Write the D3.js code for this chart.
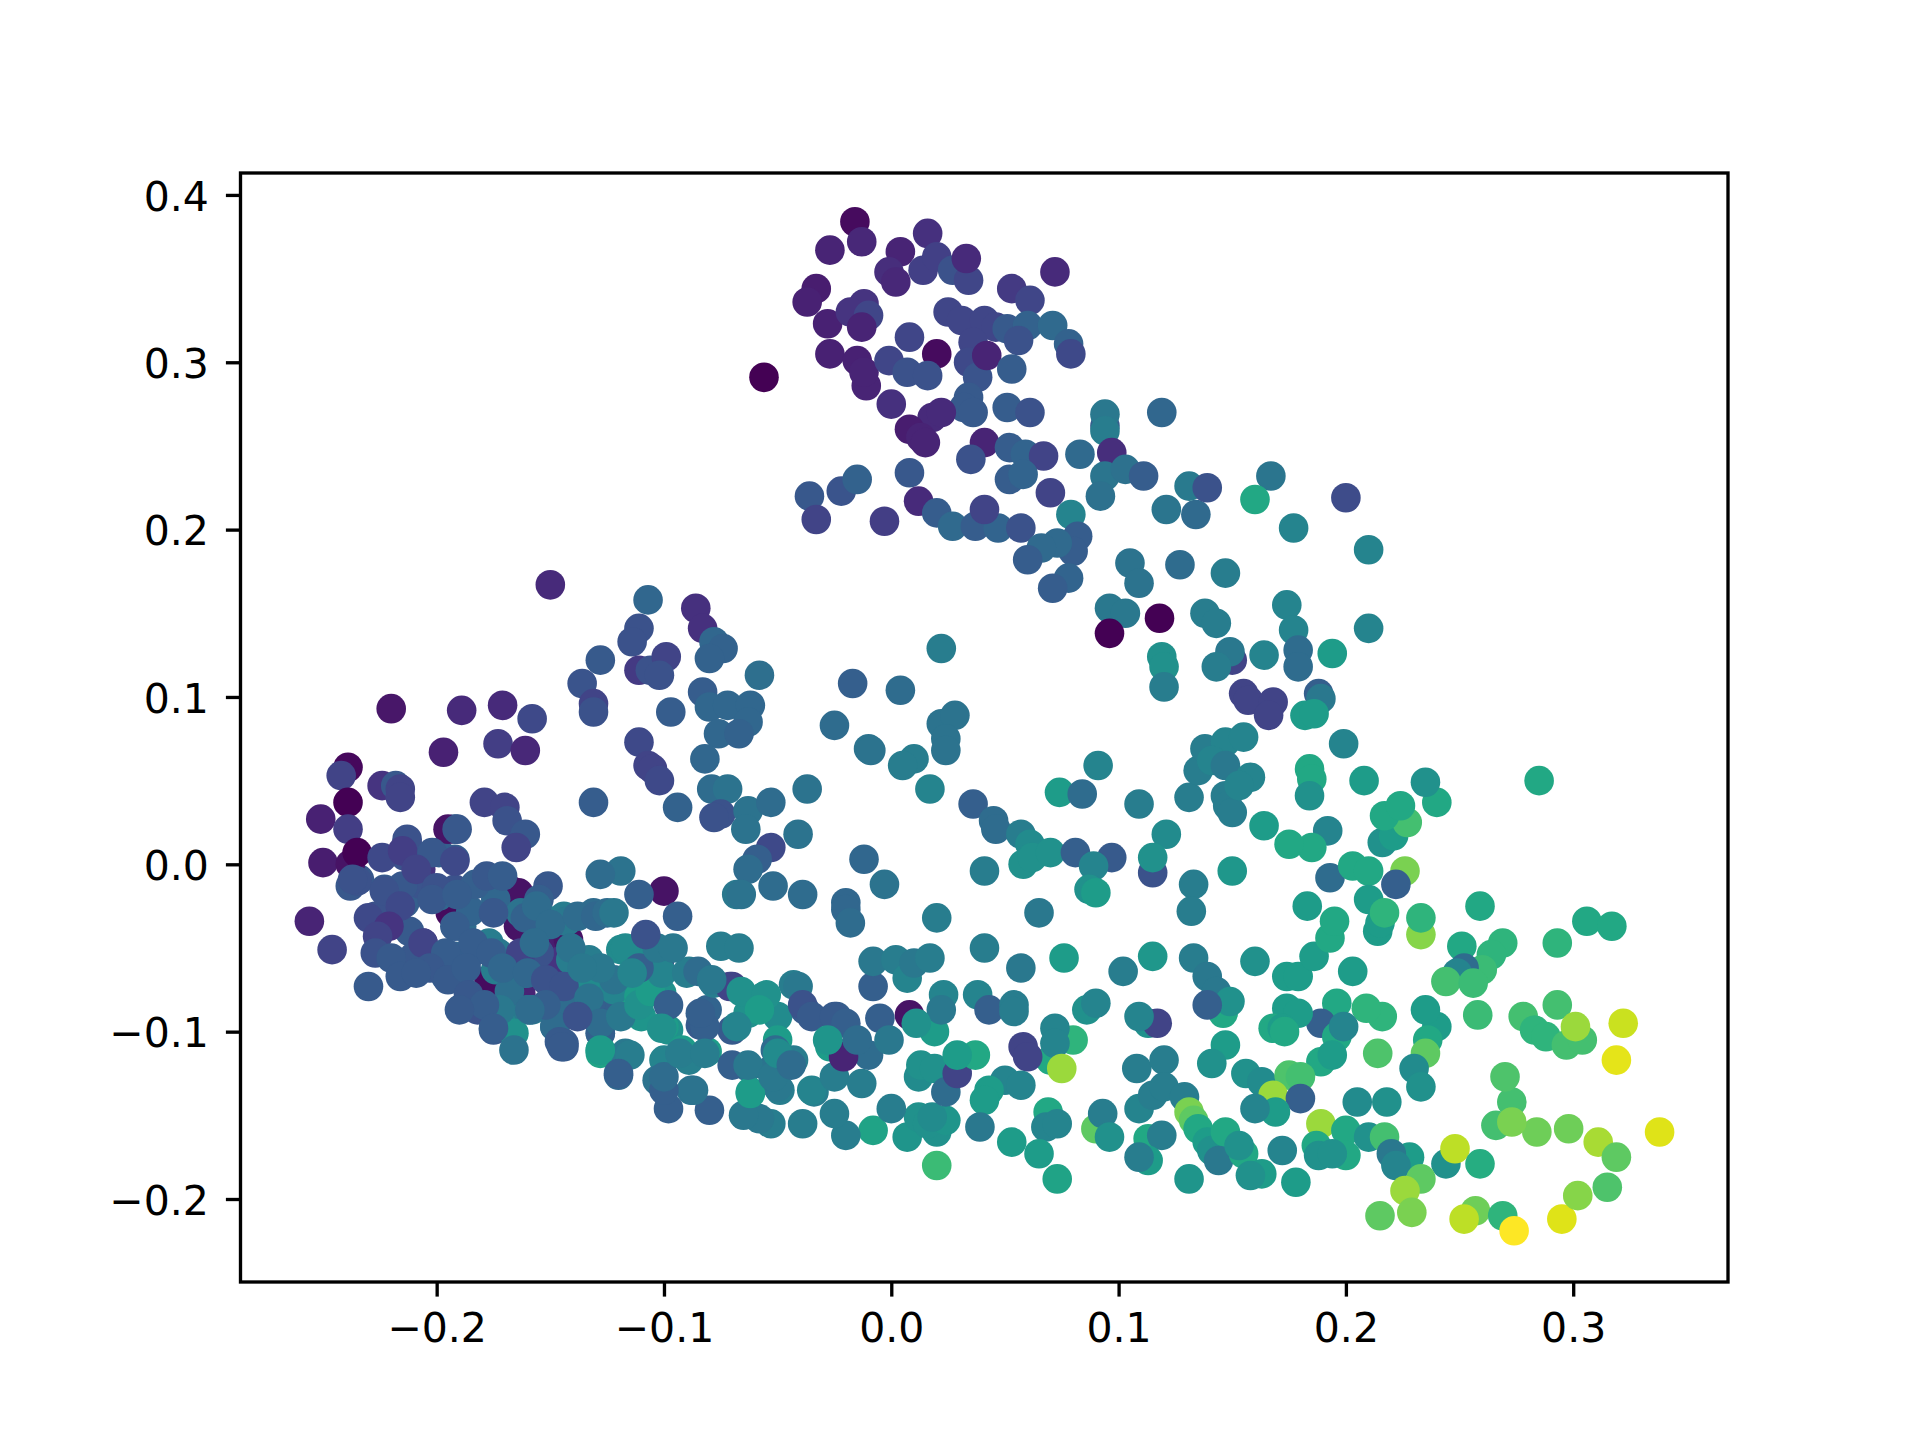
<!DOCTYPE html>
<html><head><meta charset="utf-8">
<script src="https://cdn.jsdelivr.net/npm/d3@7/dist/d3.min.js"></script>
<style>html,body{margin:0;padding:0;background:#fff}svg{display:block}text{font-family:"DejaVu Sans";}</style>
</head><body><svg id="c" width="1920" height="1440"></svg>
<script>
const xTicks=[-0.2,-0.1,0,0.1,0.2,0.3];
const yTicks=[-0.2,-0.1,0,0.1,0.2,0.3,0.4];
// each record: x, y, colour value
const hiddenDark=[[-.167,-.016,.08],[-.145,-.043,.08],[-.164,-.037,.05],[-.176,-.07,.05],[-.146,-.058,.15],[-.164,-.017,.05],[-.142,-.045,.05],[-.194,-.029,.03],[-.177,-.069,.03],[-.163,-.077,.1]];
const denseFill=[[-.129,-.071,.5],[-.12,-.073,.5],[-.112,-.079,.58],[-.101,-.077,.5],[-.11,-.091,.52],[-.098,-.099,.5],[-.128,-.113,.58],[-.117,-.114,.42],[-.1,-.117,.45],[-.089,-.117,.43],[-.081,-.112,.55],[-.092,-.111,.55],[-.07,-.099,.28],[-.084,-.096,.28],[-.081,-.087,.32],[-.07,-.073,.18],[-.078,-.071,.42],[-.089,-.064,.42],[-.056,-.079,.52],[-.063,-.089,.5],[-.05,-.091,.48],[-.05,-.105,.55],[-.051,-.111,.35],[-.043,-.117,.42],[-.063,-.121,.38],[-.053,-.123,.38],[-.07,-.12,.3],[-.062,-.136,.55],[-.049,-.135,.42],[-.034,-.136,.42],[-.088,-.135,.38],[-.103,-.129,.38],[-.043,-.072,.42],[-.038,-.087,.28],[-.027,-.109,.55],[-.024,-.091,.3],[-.102,-.058,.25],[-.111,-.066,.28],[-.119,-.051,.48],[-.113,-.053,.48],[-.133,-.057,.42],[-.141,-.057,.42],[-.133,-.083,.3],[-.122,-.089,.3],[-.128,-.101,.38],[-.148,-.097,.38],[-.144,-.109,.28],[-.158,-.087,.4],[-.146,-.077,.3],[-.155,-.053,.25],[-.131,-.029,.35],[-.142,-.033,.42],[-.192,-.055,.33],[-.189,-.037,.35],[-.177,-.047,.42],[-.174,-.021,.33],[-.151,-.013,.27],[-.155,-.021,.3],[-.163,-.029,.38],[-.152,-.033,.42],[-.144,-.031,.42],[-.173,-.053,.4],[-.174,-.063,.42],[-.161,-.065,.42],[-.155,-.053,.25],[-.163,-.053,.2],[-.171,-.089,.45],[-.16,-.087,.4],[-.146,-.073,.28],[-.145,-.081,.35],[-.132,-.083,.3],[-.132,-.073,.48],[-.122,-.075,.45],[-.111,-.079,.55],[-.1,-.097,.55],[-.189,-.086,.3],[-.182,-.087,.25],[-.175,-.099,.28],[-.166,-.101,.5],[-.148,-.097,.35],[-.144,-.107,.28],[-.128,-.111,.55],[-.128,-.101,.3],[-.117,-.113,.4],[-.12,-.126,.33],[-.196,-.067,.3],[-.186,-.055,.3],[-.206,-.047,.15],[-.221,-.033,.2],[-.227,-.031,.25],[-.214,-.023,.3],[-.223,-.015,.28],[-.234,-.009,.27],[-.238,-.013,.27],[-.192,-.015,.25],[-.199,-.019,.33],[-.207,-.003,.15],[-.213,.013,.25],[-.214,.005,.25],[-.199,.007,.3],[-.192,.003,.3],[-.192,.021,.33],[-.207,-.012,.26],[-.212,-.04,.28],[-.185,-.028,.32],[-.183,-.012,.3],[-.21,-.055,.27],[-.168,-.076,.36],[-.215,-.013,.27]];
const leftCluster=[[-.239,.058,.02],[-.242,.053,.2],[-.22,.093,.06],[-.189,.092,.12],[-.171,.095,.12],[-.158,.087,.22],[-.197,.067,.09],[-.173,.072,.18],[-.161,.068,.11],[-.224,.047,.15],[-.218,.047,.27],[-.216,.045,.2],[-.216,.04,.2],[-.239,.037,0],[-.251,.027,.09],[-.239,.021,.18],[-.195,.021,.05],[-.191,.021,.27],[-.179,.037,.2],[-.17,.034,.2],[-.169,.026,.25],[-.161,.018,.27],[-.165,.01,.2],[-.25,.001,.08],[-.238,0,.05],[-.235,.007,0],[-.224,.004,.22],[-.213,.015,.25],[-.215,.008,.18],[-.202,.007,.27],[-.209,-.003,.2],[-.192,.002,.22],[-.235,-.01,.25],[-.237,-.009,.25],[-.223,-.016,.25],[-.216,-.025,.22],[-.23,-.032,.22],[-.221,-.037,.15],[-.226,-.043,.2],[-.2,-.014,.25],[-.202,-.021,.27],[-.191,-.018,.29],[-.178,-.007,.27],[-.171,-.007,.29],[-.175,-.029,.27],[-.161,-.032,.31],[-.156,-.025,.35],[-.143,-.034,.4],[-.15,-.036,.35],[-.138,-.031,.35],[-.13,-.031,.33],[-.125,-.029,.35],[-.206,-.047,.2],[-.227,-.053,.25],[-.22,-.056,.28],[-.192,-.037,.29],[-.184,-.047,.29],[-.176,-.053,.29],[-.196,-.053,.29],[-.203,-.062,.27],[-.195,-.069,.28],[-.187,-.062,.29],[-.171,-.062,.33],[-.16,-.065,.33],[-.157,-.047,.35],[-.141,-.05,.38],[-.152,-.069,.25],[-.144,-.073,.25],[-.152,-.084,.3],[-.159,-.087,.35],[-.172,-.087,.4],[-.186,-.078,.27],[-.179,-.084,.29],[-.146,-.106,.28],[-.133,-.08,.38],[-.128,-.095,.35],[-.119,-.091,.4],[-.111,-.084,.5],[-.106,-.076,.55],[-.117,-.05,.48],[-.101,-.065,.45],[-.098,-.084,.3],[-.09,-.065,.42],[-.085,-.064,.35],[-.071,-.073,.2],[-.079,-.069,.4],[-.111,-.062,.3],[-.122,-.069,.38],[-.103,-.05,.4],[-.128,-.062,.4],[-.136,-.062,.4],[-.138,-.091,.25],[-.114,-.065,.45],[-.23,-.073,.28],[-.216,-.067,.28],[-.209,-.065,.28],[-.246,-.051,.2],[-.256,-.034,.1],[-.19,-.087,.28],[-.175,-.098,.29],[-.166,-.111,.38],[-.145,-.109,.28],[-.128,-.111,.55],[-.115,-.114,.42],[-.12,-.125,.3],[-.108,-.042,.25],[-.1,-.016,.05],[-.094,-.031,.3],[-.096,-.05,.4],[-.111,-.018,.3],[-.119,-.004,.38],[-.128,-.006,.35],[-.122,-.029,.4],[-.075,-.049,.42],[-.067,-.05,.42]];
const upperLeftCluster=[[-.107,.158,.33],[-.086,.153,.14],[-.083,.141,.14],[-.111,.141,.25],[-.114,.133,.25],[-.128,.122,.28],[-.136,.108,.26],[-.15,.167,.12],[-.111,.116,.17],[-.106,.116,.25],[-.099,.124,.2],[-.102,.113,.25],[-.078,.133,.33],[-.074,.129,.31],[-.08,.123,.31],[-.058,.113,.36],[-.083,.103,.29],[-.08,.094,.33],[-.072,.095,.33],[-.062,.095,.33],[-.063,.085,.33],[-.076,.078,.33],[-.067,.078,.31],[-.082,.063,.33],[-.097,.091,.29],[-.131,.096,.2],[-.131,.091,.25],[-.111,.073,.22],[-.107,.059,.2],[-.105,.057,.2],[-.102,.05,.22],[-.094,.034,.31],[-.131,.037,.29],[-.079,.045,.35],[-.072,.045,.38],[-.037,.045,.38],[-.075,.03,.25],[-.078,.028,.25],[-.063,.032,.38],[-.064,.021,.38],[-.053,.037,.35],[-.041,.018,.38],[-.053,.01,.22],[-.059,.003,.3],[-.063,-.003,.35],[-.039,-.018,.35],[-.052,-.013,.35],[-.068,-.018,.4],[-.066,-.018,.38]];
const topCluster=[[-.056,.291,0],[-.016,.384,.03],[-.013,.372,.11],[-.027,.367,.1],[.004,.366,.1],[.016,.377,.14],[-.001,.354,.13],[.002,.348,.11],[.014,.355,.19],[.02,.363,.19],[.027,.355,.25],[.034,.349,.21],[.033,.362,.12],[.072,.354,.12],[.053,.344,.17],[.061,.337,.21],[-.033,.344,.08],[-.037,.336,.09],[-.028,.323,.09],[-.012,.335,.15],[-.018,.33,.15],[-.01,.328,.21],[-.013,.321,.1],[-.027,.305,.09],[-.015,.301,.09],[-.011,.286,.1],[-.012,.294,.1],[0,.275,.14],[.008,.315,.21],[-.001,.301,.21],[.02,.305,.03],[.007,.294,.25],[.016,.292,.25],[.025,.33,.21],[.031,.325,.21],[.041,.325,.21],[.046,.321,.21],[.036,.312,.21],[.034,.3,.22],[.038,.291,.26],[.034,.279,.28],[.032,.273,.28],[.036,.27,.28],[.042,.304,.1],[.018,.267,.12],[.022,.27,.12],[.008,.26,.08],[.013,.255,.1],[.015,.252,.1],[.051,.32,.28],[.06,.322,.31],[.071,.322,.34],[.078,.311,.31],[.079,.305,.22],[.056,.313,.25],[.053,.296,.29],[.051,.273,.29],[.061,.27,.25],[.041,.252,.1],[.035,.242,.25],[.052,.249,.29],[.059,.245,.32],[.067,.244,.2],[.008,.234,.27],[.012,.217,.12],[.02,.21,.29],[-.036,.22,.27],[-.033,.206,.2],[-.022,.223,.26],[-.015,.23,.31],[-.003,.205,.18],[.027,.202,.34],[.037,.202,.29],[.047,.201,.32],[.057,.201,.25],[.041,.212,.2],[.07,.222,.2],[.052,.23,.29],[.058,.233,.32],[.083,.245,.34],[.094,.262,.29],[.094,.269,.4],[.094,.259,.42],[.119,.27,.33],[.097,.246,.13],[.094,.232,.39],[.103,.236,.37],[.111,.232,.29],[.092,.22,.37],[.079,.209,.45],[.121,.212,.39],[.134,.209,.34],[.131,.226,.41],[.139,.225,.25],[.167,.232,.39],[.16,.218,.6],[.2,.219,.23],[.177,.201,.45],[.21,.188,.45],[.082,.196,.29],[.08,.187,.29],[.073,.192,.34],[.066,.189,.34],[.06,.182,.29],[.078,.171,.32],[.071,.165,.29]];
const midRightCluster=[[.105,.18,.38],[.109,.168,.38],[.127,.179,.35],[.147,.174,.42],[.096,.153,.4],[.103,.15,.4],[.096,.138,0],[.118,.147,0],[.138,.15,.42],[.143,.144,.42],[.174,.155,.45],[.177,.14,.45],[.21,.141,.45],[.179,.128,.35],[.179,.118,.35],[.194,.126,.55],[.164,.125,.45],[.15,.122,.2],[.149,.127,.4],[.143,.118,.42],[.119,.124,.5],[.12,.118,.5],[.12,.106,.42],[.155,.102,.2],[.157,.098,.2],[.168,.097,.2],[.166,.089,.2],[.188,.102,.3],[.189,.099,.4],[.182,.089,.55],[.186,.09,.55],[.199,.072,.45],[.022,.129,.42],[-.017,.108,.3],[.004,.104,.35],[-.025,.083,.35],[-.01,.069,.38],[-.009,.068,.38],[.022,.084,.38],[.028,.089,.38],[.024,.075,.38],[.024,.068,.38],[.01,.063,.42],[.005,.059,.42],[.017,.045,.45],[.036,.036,.3],[.045,.026,.35],[.046,.021,.35],[.057,.018,.42],[.061,.012,.48],[.041,-.004,.42],[.058,0,.5],[.062,.004,.5],[.07,.007,.5],[.081,.007,.3],[.097,.004,.28],[.074,.043,.55],[.084,.042,.35],[.091,.059,.45],[.109,.036,.42],[.121,.018,.48],[.115,-.005,.25],[.115,.004,.5],[.089,-.001,.45],[.087,-.015,.5],[.09,-.017,.55],[.065,-.029,.4],[.02,-.032,.42],[-.003,-.012,.38],[-.012,.003,.33],[-.02,-.023,.33],[-.02,-.027,.33],[-.018,-.035,.35],[.076,-.056,.55],[.057,-.062,.4],[.041,-.05,.42],[.133,-.012,.42],[.132,-.028,.42],[.15,-.004,.53],[.115,-.055,.53],[.133,-.056,.42],[.102,-.064,.42],[.139,-.067,.4],[.143,-.076,.4],[.146,-.089,.6],[.149,-.082,.5],[.139,-.084,.3],[.16,-.058,.5],[.174,-.067,.55],[.179,-.067,.55],[.186,-.055,.55],[.193,-.044,.6],[.195,-.034,.6],[.183,-.025,.55],[.193,-.008,.35],[.203,-.001,.6],[.21,-.004,.6],[.21,-.021,.55],[.214,-.04,.55],[.215,-.035,.55],[.217,-.029,.65],[.226,-.004,.8],[.222,-.012,.3],[.216,.013,.5],[.221,.017,.55],[.227,.025,.7],[.217,.029,.6],[.224,.035,.6],[.24,.037,.6],[.235,.049,.5],[.208,.05,.55],[.184,.057,.6],[.185,.051,.6],[.184,.041,.5],[.192,.02,.45],[.185,.01,.6],[.175,.012,.6],[.164,.023,.55],[.147,.041,.42],[.148,.035,.42],[.15,.031,.42],[.131,.04,.42],[.135,.056,.42],[.138,.069,.42],[.147,.073,.45],[.155,.076,.45],[.141,.062,.45],[.147,.059,.4],[.158,.052,.45],[.153,.047,.45],[.285,.05,.6]];
const rightCluster=[[.259,-.025,.6],[.233,-.042,.82],[.233,-.032,.65],[.251,-.049,.6],[.269,-.047,.65],[.264,-.054,.65],[.26,-.063,.68],[.252,-.062,.35],[.249,-.065,.45],[.244,-.07,.7],[.256,-.071,.68],[.258,-.09,.68],[.293,-.047,.65],[.306,-.034,.6],[.317,-.037,.6],[.278,-.091,.7],[.283,-.099,.65],[.288,-.103,.65],[.293,-.084,.7],[.297,-.108,.7],[.304,-.105,.7],[.301,-.097,.85],[.322,-.095,.92],[.319,-.117,.96],[.24,-.097,.55],[.236,-.105,.6],[.235,-.087,.55],[.235,-.113,.75],[.214,-.113,.72],[.216,-.091,.65],[.209,-.086,.65],[.203,-.064,.55],[.196,-.083,.6],[.189,-.095,.3],[.196,-.103,.6],[.199,-.097,.45],[.189,-.118,.6],[.194,-.114,.55],[.174,-.086,.55],[.179,-.089,.55],[.168,-.098,.6],[.172,-.098,.55],[.173,-.1,.6],[.147,-.108,.55],[.141,-.119,.5],[.156,-.125,.5],[.163,-.13,.48],[.175,-.126,.72],[.18,-.127,.7],[.168,-.138,.85],[.18,-.14,.3],[.169,-.148,.55],[.16,-.146,.45],[.205,-.142,.48],[.218,-.142,.5],[.23,-.122,.48],[.233,-.133,.5],[.189,-.155,.85],[.2,-.159,.6],[.21,-.163,.5],[.217,-.163,.7],[.228,-.175,.55],[.22,-.173,.4],[.222,-.18,.45],[.244,-.179,.5],[.248,-.17,.9],[.259,-.179,.62],[.233,-.188,.75],[.226,-.195,.85],[.229,-.208,.8],[.215,-.21,.75],[.257,-.207,.78],[.252,-.212,.9],[.269,-.21,.65],[.274,-.219,1],[.295,-.212,.95],[.302,-.198,.82],[.315,-.193,.72],[.311,-.166,.87],[.319,-.175,.75],[.338,-.16,.95],[.298,-.158,.78],[.284,-.16,.78],[.266,-.156,.7],[.273,-.142,.7],[.273,-.154,.8],[.27,-.127,.72]];
const lowerMidCluster=[[.09,-.158,.75],[.093,-.149,.42],[.096,-.163,.5],[.069,-.148,.6],[.068,-.157,.45],[.073,-.155,.45],[.065,-.173,.55],[.053,-.166,.55],[.073,-.188,.58],[.08,-.105,.65],[.07,-.117,.6],[.072,-.098,.45],[.072,-.107,.45],[.075,-.122,.85],[.058,-.109,.2],[.06,-.115,.2],[.113,-.095,.5],[.117,-.095,.2],[.109,-.091,.45],[.086,-.087,.5],[.09,-.083,.45],[.108,-.122,.42],[.12,-.117,.42],[.109,-.146,.45],[.115,-.138,.42],[.12,-.133,.42],[.129,-.139,.42],[.131,-.148,.8],[.133,-.153,.75],[.113,-.164,.6],[.119,-.162,.42],[.113,-.177,.55],[.109,-.175,.42],[.135,-.158,.6],[.139,-.166,.55],[.141,-.171,.5],[.131,-.188,.52],[.147,-.16,.6],[.144,-.177,.4],[.155,-.173,.6],[.153,-.168,.5],[.163,-.185,.55],[.158,-.186,.5],[.172,-.171,.45],[.178,-.19,.55],[.187,-.168,.6],[.188,-.174,.5],[.2,-.174,.6],[.194,-.173,.5]];
const bottomCluster=[[.02,-.18,.68],[.007,-.163,.52],[.02,-.16,.5],[.012,-.151,.5],[.016,-.155,.5],[.024,-.153,.52],[.018,-.151,.48],[-.008,-.159,.58],[0,-.146,.42],[-.02,-.162,.42],[-.025,-.149,.42],[-.039,-.155,.42],[-.053,-.155,.42],[-.058,-.152,.4],[-.065,-.15,.4],[-.08,-.147,.3],[-.098,-.146,.3],[-.1,-.135,.3],[-.087,-.135,.38],[-.1,-.127,.35],[-.035,-.135,.45],[-.05,-.133,.4],[-.062,-.137,.55],[-.025,-.127,.42],[-.013,-.131,.42],[-.01,-.114,.35],[.012,-.127,.48],[.013,-.12,.5],[.019,-.122,.5],[.024,-.136,.35],[.029,-.125,.2],[-.021,-.115,.1],[.008,-.09,.05],[.019,-.1,.55],[.023,-.078,.45],[.022,-.087,.4],[.011,-.095,.5],[-.005,-.092,.3],[-.008,-.073,.3],[-.008,-.058,.4],[.002,-.057,.42],[.007,-.068,.45],[.01,-.059,.4],[.017,-.056,.42],[.038,-.078,.45],[.043,-.087,.3],[.054,-.084,.42],[.054,-.088,.42],[.037,-.114,.6],[.029,-.114,.55],[.05,-.129,.45],[.057,-.132,.45],[.043,-.135,.55],[.041,-.141,.55],[.039,-.157,.4],[-.066,-.076,.5],[-.055,-.078,.5],[-.058,-.087,.55],[-.068,-.097,.45],[-.082,-.097,.3],[-.084,-.089,.3],[-.101,-.098,.5],[-.093,-.113,.42],[-.082,-.113,.42],[-.063,-.12,.4],[-.052,-.127,.4],[-.05,-.113,.48],[-.044,-.12,.35],[-.041,-.073,.4],[-.039,-.084,.25],[-.035,-.091,.28],[-.025,-.091,.28],[-.02,-.095,.3],[-.028,-.105,.52],[-.015,-.105,.35],[-.001,-.105,.4]];
const allPoints=[...hiddenDark,...denseFill,...leftCluster,...upperLeftCluster,...topCluster,...midRightCluster,...rightCluster,...lowerMidCluster,...bottomCluster];

const svg=d3.select("#c");
const m={l:240.5,r:1728,t:173,b:1282};
const x=d3.scaleLinear().domain([-.2863,.3681]).range([m.l,m.r]);
const y=d3.scaleLinear().domain([-.2496,.4131]).range([m.b,m.t]);
const color=d3.scaleSequential(d3.interpolateViridis).domain([0,1]);
svg.append("g").selectAll("circle").data(allPoints).join("circle")
  .attr("cx",d=>x(d[0])).attr("cy",d=>y(d[1])).attr("r",14.8).attr("fill",d=>color(d[2]));
const fmt=d3.format(".1f");
const gx=svg.append("g").attr("transform",`translate(0,${m.b})`).call(d3.axisBottom(x).tickValues(xTicks).tickFormat(fmt).tickSize(14.6).tickPadding(16));
const gy=svg.append("g").attr("transform",`translate(${m.l},0)`).call(d3.axisLeft(y).tickValues(yTicks).tickFormat(fmt).tickSize(14.6).tickPadding(17));
[gx,gy].forEach(g=>{g.select(".domain").remove();g.selectAll("line").attr("stroke","#000").attr("stroke-width",3.33);g.selectAll("text").attr("fill","#000").style("font-size","41px").style("font-family","DejaVu Sans");});
gy.selectAll("text").attr("dy","0.37em");
svg.append("rect").attr("x",m.l).attr("y",m.t).attr("width",m.r-m.l).attr("height",m.b-m.t).attr("fill","none").attr("stroke","#000").attr("stroke-width",3.33);
</script></body></html>
